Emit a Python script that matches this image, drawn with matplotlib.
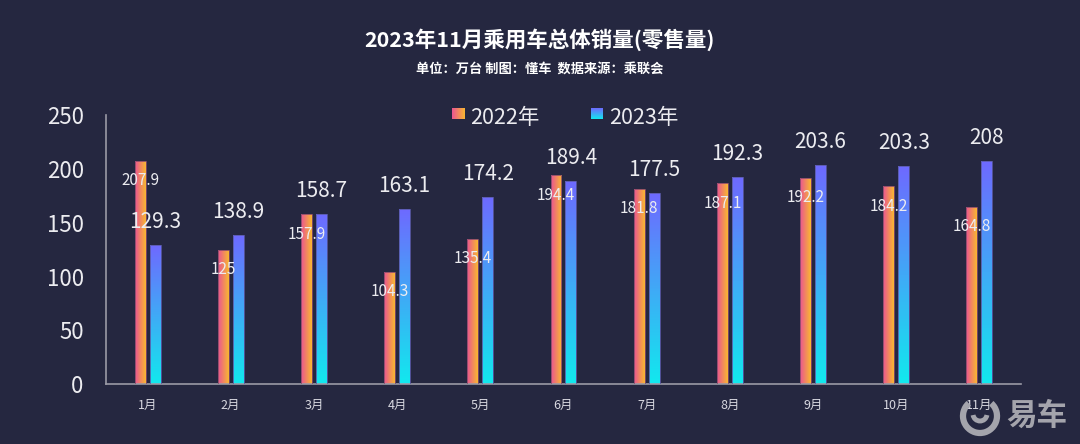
import numpy as np
import matplotlib
matplotlib.use("Agg")
import matplotlib.pyplot as plt
from matplotlib.patches import Arc
from matplotlib.colors import LinearSegmentedColormap

plt.rcParams['font.family'] = ['Noto Sans CJK SC', 'DejaVu Sans']

months = ['1月', '2月', '3月', '4月', '5月', '6月', '7月', '8月', '9月', '10月', '11月']
sales_2022 = [207.9, 125, 157.9, 104.3, 135.4, 194.4, 181.8, 187.1, 192.2, 184.2, 164.8]
sales_2023 = [129.3, 138.9, 158.7, 163.1, 174.2, 189.4, 177.5, 192.3, 203.6, 203.3, 208]
series_names = ['2022年', '2023年']

BG = '#252740'
TXT = '#ececf0'

fig = plt.figure(figsize=(10.8, 4.44), dpi=100, facecolor=BG)
ax = fig.add_axes([0.0981, 0.1351, 0.8473, 0.6049])
ax.set_facecolor(BG)

x = np.arange(len(months))
w = 0.132
off = 0.09

# gradients
grad_h = np.linspace(0, 1, 64).reshape(1, -1)   # left -> right
grad_v = np.linspace(0, 1, 64).reshape(-1, 1)   # bottom -> top
cm22 = LinearSegmentedColormap.from_list('c22', ['#ea5592', '#f9b731'])
cm23 = LinearSegmentedColormap.from_list('c23', ['#12e8ee', '#6e6aff'])

b22 = ax.bar(x - off, sales_2022, w, color='none', edgecolor='#8a4a6a', linewidth=0.6, zorder=3)
b23 = ax.bar(x + off, sales_2023, w, color='none', edgecolor='#5a5aa8', linewidth=0.6, zorder=3)

for bars, grad, cm in [(b22, grad_h, cm22), (b23, grad_v, cm23)]:
    for r in bars:
        x0, y0, bw, bh = r.get_x(), r.get_y(), r.get_width(), r.get_height()
        im = ax.imshow(grad, cmap=cm, extent=[x0, x0 + bw, y0, y0 + bh],
                       origin='lower', aspect='auto', zorder=2, vmin=0, vmax=1)
        im.set_clip_path(r)

# value labels
for i in range(len(months)):
    ax.annotate(f"{sales_2022[i]:g}", (x[i] - off, sales_2022[i]), xytext=(0, -20),
                textcoords='offset pixels', ha='center', va='center',
                fontsize=11, color=TXT, zorder=5)
    ax.annotate(f"{sales_2023[i]:g}", (x[i] + off, sales_2023[i]), xytext=(0, 23),
                textcoords='offset pixels', ha='center', va='center',
                fontsize=15, color=TXT, zorder=5)

ax.set_xlim(-0.5, len(months) - 0.5)
ax.set_ylim(0, 250)
ax.set_yticks([0, 50, 100, 150, 200, 250])
ax.set_xticks(x)
ax.set_xticklabels(months, fontsize=9, color='#d8d8e0')
ax.tick_params(axis='y', length=0, pad=16, labelsize=16, labelcolor=TXT)
ax.tick_params(axis='x', length=0, pad=11)
for s in ['top', 'right']:
    ax.spines[s].set_visible(False)
for s in ['left', 'bottom']:
    ax.spines[s].set_color('#9a9aa6')
    ax.spines[s].set_linewidth(1.2)

# legend (gradient squares drawn by hand)
leg_items = [(0.4185, cm22, grad_h, series_names[0]), (0.547, cm23, grad_v, series_names[1])]
for lx, cm, grad, name in leg_items:
    lax = fig.add_axes([lx, 1 - 119 / 444, 12 / 1080, 11 / 444])
    lax.imshow(grad, cmap=cm, aspect='auto', origin='lower', vmin=0, vmax=1)
    lax.axis('off')
    fig.text(lx + 18 / 1080, 1 - 118 / 444, name, fontsize=15.5, color=TXT,
             ha='left', va='center')

fig.text(0.5, 1 - 40 / 444, '2023年11月乘用车总体销量(零售量)', fontsize=15.5,
         fontweight='bold', color='white', ha='center', va='center')
fig.text(0.5, 1 - 69 / 444, '单位：万台 制图：懂车  数据来源：乘联会', fontsize=9.5,
         fontweight='bold', color='white', ha='center', va='center')

# watermark
wm = '#a4a4ac'
cx, cy = 980 / 1080, 1 - 416 / 444
fig.patches.append(Arc((cx, cy), 34 / 1080, 34 / 444, theta1=110, theta2=70,
                       transform=fig.transFigure, edgecolor=wm, linewidth=4.5, zorder=10))
fig.patches.append(Arc((cx, cy + 2 / 444), 14 / 1080, 14 / 444, theta1=200, theta2=340,
                       transform=fig.transFigure, edgecolor=wm, linewidth=3.5, zorder=10))
fig.text(1037 / 1080, cy, '易车', fontsize=22, fontweight='bold', color=wm,
         ha='center', va='center', zorder=10)

fig.savefig('out.png', dpi=100, facecolor=BG)
